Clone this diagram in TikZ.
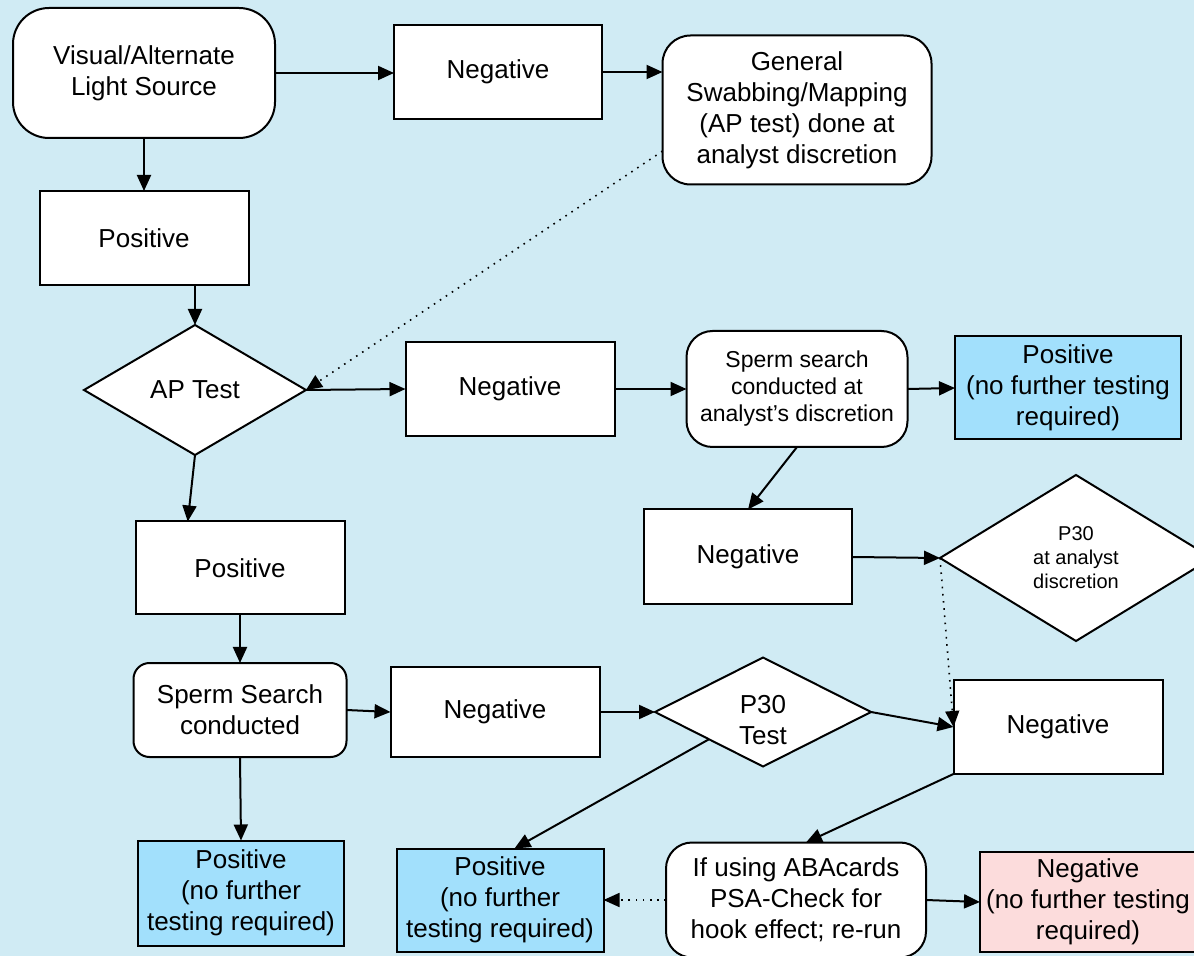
\documentclass[tikz,border=0pt]{standalone}
\usepackage{fontspec}
\setmainfont{Liberation Sans}
\usetikzlibrary{arrows.meta,shapes.geometric,calc}
\definecolor{bgc}{RGB}{208,235,244}
\definecolor{bluef}{RGB}{162,224,252}
\definecolor{pinkf}{RGB}{252,220,220}
\begin{document}
\begin{tikzpicture}[x=0.5pt,y=-0.5pt,
  base/.style={draw=black,line width=1pt,fill=white,inner sep=0pt,outer sep=0pt,align=center,
    font=\fontsize{13}{15.5}\selectfont},
  box/.style={base,rectangle},
  rbox/.style={base,rectangle,rounded corners=#1},
  dia/.style={base,diamond},
  conn/.style={line width=1pt,-{Triangle[length=8pt,width=7pt]}},
  dots/.style={line width=0.8pt,dash pattern=on 0.8pt off 2.8pt,-{Triangle[length=8pt,width=7pt]}}]
\fill[bgc] (0,0) rectangle (1194,956);
\useasboundingbox (0,0) rectangle (1194,956);
\clip (0,0) rectangle (1194,956);

\node[rbox=18pt,minimum width=131pt,minimum height=65pt] (vals) at (144,73) {Visual/Alternate\\Light Source};
\node[box,minimum width=104pt,minimum height=47pt] (neg1) at (498,72) {Negative};
\node[rbox=14pt,minimum width=134.5pt,minimum height=74.5pt] (gen) at (797,110) {General\\Swabbing/Mapping\\(AP test) done at\\analyst discretion};
\node[box,minimum width=104.5pt,minimum height=47pt] (pos1) at (144,238) {Positive};
\node[dia,minimum width=111pt,minimum height=65pt] (ap) at (195,390) {AP Test};
\node[box,minimum width=104.5pt,minimum height=47pt] (neg2) at (510,389) {Negative};
\node[rbox=13pt,minimum width=110.5pt,minimum height=58pt,font=\fontsize{11.5}{13.5}\selectfont] (ss) at (797,389) {Sperm search\\conducted at\\analyst's discretion};
\node[box,fill=bluef,minimum width=113pt,minimum height=51.5pt] (pb1) at (1068,388) {Positive\\(no further testing\\required)};
\node[box,minimum width=104.5pt,minimum height=46.5pt] (pos2) at (240,568) {Positive};
\node[box,minimum width=104pt,minimum height=47.5pt] (neg3) at (748,557) {Negative};
\node[dia,minimum width=136pt,minimum height=83pt,font=\fontsize{10}{12}\selectfont] (p30a) at (1076,558) {P30\\at analyst\\discretion};
\node[rbox=8pt,minimum width=106.5pt,minimum height=47pt] (ssc) at (240,710) {Sperm Search\\conducted};
\node[box,minimum width=104.5pt,minimum height=45pt] (neg4) at (495,712) {Negative};
\node[dia,minimum width=108pt,minimum height=54.5pt] (p30) at (763,712) {};
\node[font=\fontsize{13}{15.5}\selectfont,align=center,inner sep=0pt] (p30t) at (763,720) {P30\\Test};
\node[box,minimum width=104.5pt,minimum height=47pt] (neg5) at (1058,727) {Negative};
\node[box,fill=bluef,minimum width=103pt,minimum height=52.5pt] (pb2) at (241,893) {Positive\\(no further\\testing required)};
\node[box,fill=bluef,minimum width=103.5pt,minimum height=51.5pt] (pb3) at (500,900) {Positive\\(no further\\testing required)};
\node[rbox=13pt,minimum width=130pt,minimum height=57.5pt] (aba) at (796,900) {If using ABAcards\\PSA-Check for\\hook effect; re-run};
\node[box,fill=pinkf,minimum width=108pt,minimum height=50pt] (pink) at (1088,902) {Negative\\(no further testing\\required)};

\draw[conn] (vals.east) -- (vals.east -| neg1.west);
\draw[conn] (neg1.east) -- (neg1.east -| gen.west);
\draw[conn] (vals.south) -- (pos1.north);
\draw[conn] (ap.north |- pos1.south) -- (ap.north);
\draw[conn] (ap.east) -- (neg2.west);
\draw[dots] (gen.197) -- (ap.east);
\draw[conn] (ap.south) -- ($(pos2.north west)!0.25!(pos2.north east)$);
\draw[conn] (neg2.east) -- (ss.west);
\draw[conn] (ss.east) -- (pb1.west);
\draw[conn] (ss.south) -- (neg3.north);
\draw[conn] (neg3.east) -- (p30a.west);
\draw[dots] (p30a.west) -- (neg5.west);
\draw[conn] (p30.east) -- (neg5.west);
\draw[conn] (pos2.south) -- (ssc.north);
\draw[conn] (ssc.east) -- (neg4.west);
\draw[conn] (neg4.east) -- (p30.west);
\draw[conn] (ssc.south) -- (pb2.north);
\draw[conn] (p30.south west) -- ($(pb3.north west)!0.57!(pb3.north east)$);
\draw[conn] (neg5.south west) -- ($(aba.north)+(10,0)$);
\draw[dots] (aba.west) -- (pb3.east);
\draw[conn] (aba.east) -- (pink.west);
\end{tikzpicture}
\end{document}
